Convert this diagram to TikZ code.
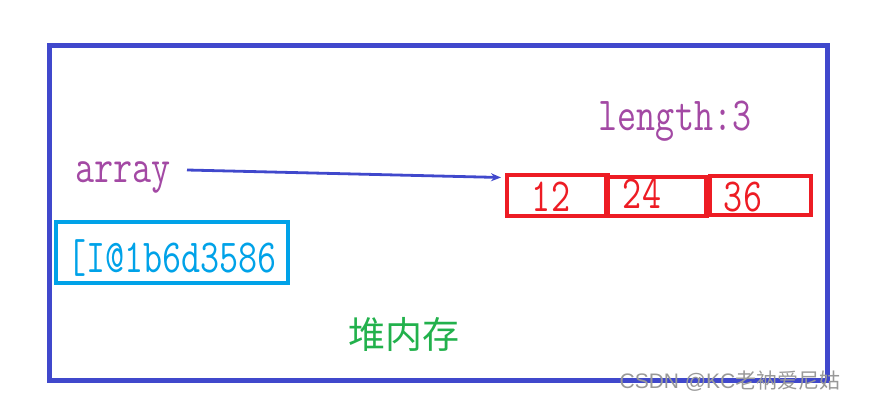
\documentclass[tikz,border=0pt]{standalone}
\usepackage{fontspec}
\usetikzlibrary{arrows.meta}
\newfontfamily\cjk{Noto Sans CJK SC}
\newfontfamily\wmfont{Liberation Sans}
\definecolor{frameblue}{RGB}{64,72,204}
\definecolor{txtpurple}{RGB}{163,73,164}
\definecolor{boxred}{RGB}{237,28,36}
\definecolor{boxcyan}{RGB}{0,162,232}
\definecolor{txtgreen}{RGB}{34,177,76}
\newcommand{\tallt}[1]{\scalebox{1}[1.28]{#1}}
\begin{document}
\begin{tikzpicture}[x=1pt,y=-1pt,
  mono/.style={font=\fontsize{37}{37}\selectfont\ttfamily, inner sep=0pt, anchor=base},
  cell/.style={draw=boxred, line width=4.5pt, inner sep=0pt},
  celltext/.style={mono, text=boxred}]
\useasboundingbox (0,0) rectangle (877,401);
% outer heap frame
\node[draw=frameblue, line width=5pt, minimum width=778pt, minimum height=334pt, inner sep=0pt] (heap) at (438,213) {};
% labels
\node[mono, text=txtpurple] (len) at (675,131) {\tallt{length:3}};
\node[mono, text=txtpurple] (arr) at (123,182) {\tallt{array}};
% array cells
\node[cell, minimum width=101pt, minimum height=41pt] (c1) at (557.5,195.5) {};
\node[cell, minimum width=100pt, minimum height=39pt] (c2) at (656.5,196.5) {};
\node[cell, minimum width=101pt, minimum height=39pt] (c3) at (760.5,195.5) {};
\node[celltext] (t1) at (551,211) {\tallt{12}};
\node[celltext] (t2) at (642,208) {\tallt{24}};
\node[celltext] (t3) at (743,211) {\tallt{36}};
% address box
\node[draw=boxcyan, line width=4.5pt, minimum width=232pt, minimum height=61pt, inner sep=0pt] (addrbox) at (172,252.5) {};
\node[mono, text=boxcyan] (addr) at (172,272) {\tallt{[I@1b6d3586}};
% arrow
\coordinate (astart) at (187,170);
\coordinate (aend) at (501,177.5);
\draw[frameblue, line width=2.8pt, -{Stealth[length=10pt,width=8pt]}] (astart) -- (aend);
% heap label
\node[text=txtgreen, font=\fontsize{37}{37}\selectfont\cjk, inner sep=0pt] (heaplbl) at (404,334) {堆内存};
% watermark
\node[text=black!40, font=\fontsize{21}{21}\selectfont, inner sep=0pt, anchor=base] (wm) at (730,388) {\wmfont CSDN @KC\cjk 老衲爱尼姑};
\end{tikzpicture}
\end{document}
